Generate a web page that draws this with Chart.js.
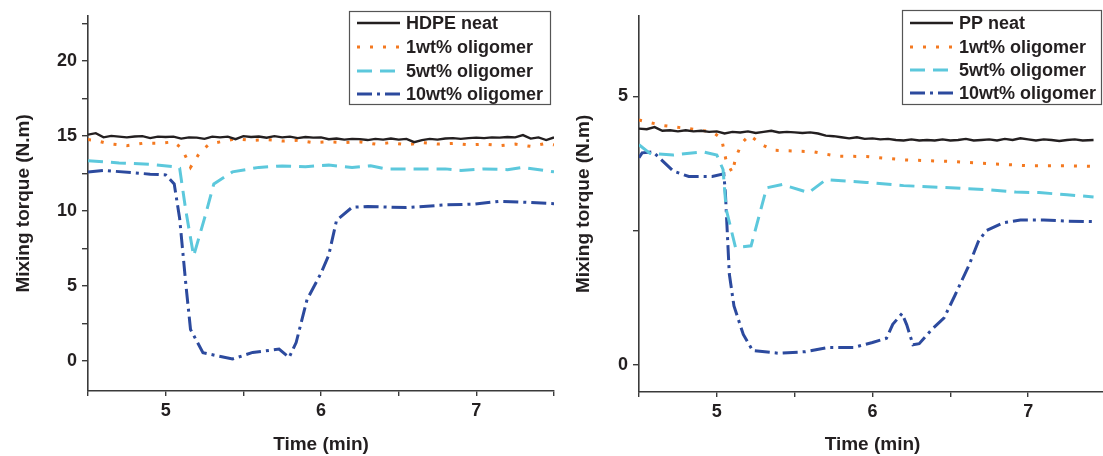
<!DOCTYPE html>
<html>
<head>
<meta charset="utf-8">
<title>Mixing torque vs time</title>
<script src="https://cdn.jsdelivr.net/npm/chart.js@4/dist/chart.umd.min.js"></script>
<style>
  html, body { margin: 0; padding: 0; background: #fff; overflow: hidden; }
  body { width: 1103px; height: 456px; position: relative; }
  .panel { position: absolute; top: 0; height: 456px; }
  #left { left: 0; width: 560px; }
  #right { left: 560px; width: 550px; }
</style>
</head>
<body>
<div class="panel" id="left"><canvas id="hdpe"></canvas></div>
<div class="panel" id="right"><canvas id="pp"></canvas></div>
<script>
// ---- data: [time (min), mixing torque (N.m)] ----
const hdpeNeat = [
  [4.50,15.08],[4.55,15.18],[4.60,14.90],[4.65,15.00],[4.70,14.95],[4.75,14.90],[4.80,14.96],[4.85,14.98],
  [4.90,14.85],[4.95,14.95],[5.00,14.92],[5.05,14.95],[5.10,14.82],[5.15,14.90],[5.20,14.88],[5.25,14.80],
  [5.30,14.95],[5.35,14.90],[5.40,14.95],[5.45,14.78],[5.50,14.98],[5.55,14.92],[5.60,14.96],[5.65,14.88],
  [5.70,14.98],[5.75,14.90],[5.80,14.95],[5.85,14.85],[5.90,14.92],[5.95,14.88],[6.00,14.90],[6.05,14.78],
  [6.10,14.82],[6.15,14.75],[6.20,14.80],[6.25,14.78],[6.30,14.72],[6.35,14.80],[6.40,14.75],[6.45,14.82],
  [6.50,14.75],[6.55,14.80],[6.60,14.58],[6.65,14.72],[6.70,14.80],[6.75,14.75],[6.80,14.82],[6.85,14.85],
  [6.90,14.80],[6.95,14.85],[7.00,14.88],[7.05,14.85],[7.10,14.90],[7.15,14.88],[7.20,14.92],[7.25,14.90],
  [7.30,15.05],[7.35,14.82],[7.40,14.90],[7.45,14.72],[7.50,14.90]
];
const hdpe1wt = [
  [4.50,14.75],[4.55,14.70],[4.62,14.50],[4.75,14.35],[4.85,14.50],[4.95,14.50],[5.05,14.60],[5.10,14.20],
  [5.13,13.60],[5.16,12.90],[5.19,13.40],[5.22,13.90],[5.28,14.45],[5.35,14.60],[5.45,14.80],[5.55,14.70],
  [5.65,14.75],[5.75,14.65],[5.85,14.70],[5.95,14.55],[6.05,14.60],[6.15,14.55],[6.25,14.60],[6.35,14.45],
  [6.45,14.55],[6.55,14.40],[6.65,14.55],[6.75,14.45],[6.85,14.50],[6.95,14.40],[7.05,14.45],[7.15,14.35],
  [7.25,14.45],[7.35,14.30],[7.45,14.50],[7.50,14.40]
];
const hdpe5wt = [
  [4.50,13.35],[4.70,13.20],[4.90,13.10],[5.05,12.95],[5.09,12.85],[5.13,10.00],[5.18,7.00],[5.25,9.50],
  [5.31,11.80],[5.43,12.60],[5.60,12.90],[5.75,13.00],[5.90,12.95],[6.05,13.05],[6.20,12.90],[6.32,13.00],
  [6.42,12.80],[6.60,12.80],[6.80,12.80],[6.90,12.70],[7.05,12.80],[7.20,12.75],[7.30,12.90],[7.50,12.60]
];
const hdpe10wt = [
  [4.50,12.60],[4.60,12.70],[4.90,12.45],[5.00,12.40],[5.055,11.80],[5.09,9.50],[5.13,5.10],[5.16,2.10],
  [5.24,0.55],[5.43,0.13],[5.56,0.57],[5.73,0.79],[5.795,0.24],[5.84,1.23],[5.91,4.09],[6.00,5.85],
  [6.05,7.06],[6.10,9.37],[6.20,10.24],[6.30,10.30],[6.55,10.22],[6.80,10.40],[6.99,10.46],[7.15,10.64],
  [7.30,10.58],[7.50,10.48]
];

const ppNeat = [
  [4.50,4.40],[4.55,4.39],[4.60,4.43],[4.65,4.36],[4.70,4.37],[4.75,4.35],[4.80,4.37],[4.85,4.35],
  [4.90,4.36],[4.95,4.34],[5.00,4.35],[5.05,4.31],[5.10,4.34],[5.15,4.33],[5.20,4.35],[5.25,4.32],
  [5.30,4.34],[5.35,4.36],[5.40,4.33],[5.45,4.34],[5.50,4.33],[5.55,4.32],[5.60,4.33],[5.65,4.31],
  [5.70,4.27],[5.75,4.26],[5.80,4.24],[5.85,4.22],[5.90,4.24],[5.95,4.21],[6.00,4.22],[6.05,4.20],
  [6.10,4.21],[6.15,4.19],[6.20,4.18],[6.25,4.20],[6.30,4.18],[6.35,4.19],[6.40,4.18],[6.45,4.20],
  [6.50,4.18],[6.55,4.19],[6.60,4.21],[6.65,4.18],[6.70,4.19],[6.75,4.20],[6.80,4.18],[6.85,4.21],
  [6.90,4.19],[6.95,4.22],[7.00,4.20],[7.05,4.18],[7.10,4.20],[7.15,4.19],[7.20,4.17],[7.25,4.19],
  [7.30,4.20],[7.35,4.18],[7.42,4.19]
];
const pp1wt = [
  [4.50,4.56],[4.65,4.46],[4.82,4.40],[4.97,4.34],[5.03,4.22],[5.06,3.80],[5.10,3.58],[5.12,3.85],
  [5.16,4.13],[5.21,4.28],[5.29,4.10],[5.36,4.00],[5.62,3.97],[5.77,3.89],[5.96,3.88],[6.20,3.82],
  [6.50,3.79],[6.75,3.75],[7.00,3.71],[7.25,3.71],[7.42,3.70]
];
const pp5wt = [
  [4.50,4.10],[4.57,3.94],[4.72,3.91],[4.91,3.97],[5.00,3.91],[5.04,3.64],[5.06,2.90],[5.12,2.19],
  [5.22,2.22],[5.32,3.30],[5.42,3.36],[5.59,3.21],[5.70,3.45],[5.96,3.40],[6.20,3.34],[6.50,3.30],
  [6.75,3.26],[6.92,3.22],[7.07,3.21],[7.25,3.17],[7.42,3.13]
];
const pp10wt = [
  [4.50,3.86],[4.52,3.95],[4.59,3.97],[4.72,3.61],[4.82,3.51],[4.97,3.51],[5.045,3.56],[5.055,3.20],
  [5.065,2.60],[5.08,1.70],[5.11,1.10],[5.17,0.57],[5.23,0.27],[5.40,0.22],[5.57,0.25],[5.72,0.33],
  [5.88,0.33],[6.00,0.42],[6.09,0.50],[6.13,0.76],[6.19,0.96],[6.22,0.75],[6.26,0.38],[6.30,0.40],
  [6.38,0.66],[6.46,0.88],[6.53,1.30],[6.62,1.86],[6.68,2.30],[6.73,2.50],[6.84,2.65],[6.95,2.70],
  [7.10,2.70],[7.24,2.68],[7.42,2.67]
];

// ---- tick positions and legend text ----
const timeTicks = [4.5, 5, 5.5, 6, 6.5, 7, 7.5];
const hdpeTorqueTicks = [0, 2.5, 5, 7.5, 10, 12.5, 15, 17.5, 20, 22.5];
const ppTorqueTicks = [0, 2.5, 5];
const hdpeLegend = ['HDPE neat', '1wt% oligomer', '5wt% oligomer', '10wt% oligomer'];
const ppLegend = ['PP neat', '1wt% oligomer', '5wt% oligomer', '10wt% oligomer'];

// ---- styling ----
const FONT = "'Liberation Sans', Arial, Helvetica, sans-serif";
const INK = '#231f20';
const AXIS = '#3a3a3a';
const seriesStyles = [
  { color: '#231f20', width: 2.4, dash: [] },
  { color: '#f47920', width: 3,   dash: [3, 10] },
  { color: '#5cc8dc', width: 3,   dash: [15, 8] },
  { color: '#2c4a9e', width: 3,   dash: [15, 5, 3, 5] }
];

function toPoints(pairs) { return pairs.map(([x, y]) => ({ x, y })); }

function buildDatasets(seriesList, labels) {
  return seriesList.map((s, i) => ({
    label: labels[i],
    data: toPoints(s),
    borderColor: seriesStyles[i].color,
    borderWidth: seriesStyles[i].width,
    borderDash: seriesStyles[i].dash,
    pointRadius: 0,
    tension: 0,
    fill: false
  }));
}

// legend box drawn inside the plot, top-right
const boxLegend = {
  id: 'boxLegend',
  afterDraw(chart, args, opts) {
    const ctx = chart.ctx;
    const { x, y, w, h, rows } = opts;
    ctx.save();
    ctx.fillStyle = '#fff';
    ctx.fillRect(x, y, w, h);
    ctx.strokeStyle = '#555';
    ctx.lineWidth = 1.2;
    ctx.strokeRect(x + 0.5, y + 0.5, w, h);
    ctx.font = 'bold 18px ' + FONT;
    ctx.textBaseline = 'middle';
    ctx.fillStyle = INK;
    chart.data.datasets.forEach((ds, i) => {
      const ry = rows[i];
      ctx.beginPath();
      ctx.strokeStyle = ds.borderColor;
      ctx.lineWidth = ds.borderWidth;
      ctx.setLineDash(ds.borderDash);
      ctx.moveTo(x + 8, ry);
      ctx.lineTo(x + 51, ry);
      ctx.stroke();
      ctx.setLineDash([]);
      ctx.fillText(ds.label, x + 57, ry + 1);
    });
    ctx.restore();
  }
};

function makeChart(canvasId, datasets, cfg) {
  const tickFont = { family: FONT, size: 18, weight: 'bold' };
  const titleFont = { family: FONT, size: 19, weight: 'bold' };
  return new Chart(document.getElementById(canvasId), {
    type: 'line',
    data: { datasets },
    plugins: [boxLegend],
    options: {
      responsive: true,
      maintainAspectRatio: false,
      animation: false,
      events: [],
      layout: { padding: { top: cfg.padTop, right: cfg.padRight, left: 0, bottom: 0 } },
      plugins: {
        legend: { display: false },
        tooltip: { enabled: false },
        boxLegend: cfg.legend
      },
      scales: {
        x: {
          type: 'linear',
          min: 4.5,
          max: 7.5,
          afterBuildTicks: (s) => { s.ticks = timeTicks.map(v => ({ value: v })); },
          afterFit: (s) => { s.height = cfg.xHeight; },
          ticks: {
            autoSkip: false, maxRotation: 0, padding: 4, color: INK, font: tickFont,
            callback: (v) => Number.isInteger(v) ? String(v) : ''
          },
          grid: { drawOnChartArea: false, drawTicks: true, tickLength: 5, color: AXIS, lineWidth: 1.4 },
          border: { display: true, color: AXIS, width: 1.6 },
          title: { display: true, text: 'Time (min)', color: INK, font: titleFont, padding: { top: 0, bottom: 0 } }
        },
        y: {
          type: 'linear',
          min: cfg.yMin,
          max: cfg.yMax,
          afterBuildTicks: (s) => { s.ticks = cfg.yTicks.map(v => ({ value: v })); },
          afterFit: (s) => { s.width = cfg.yWidth; },
          ticks: {
            autoSkip: false, padding: 5, color: INK, font: tickFont,
            callback: (v) => (v % 5 === 0) ? String(v) : ''
          },
          grid: { drawOnChartArea: false, drawTicks: true, tickLength: 6, color: AXIS, lineWidth: 1.4 },
          border: { display: true, color: AXIS, width: 1.6 },
          title: { display: true, text: 'Mixing torque (N.m)', color: INK, font: titleFont, padding: { top: 12, bottom: 0 } }
        }
      }
    }
  });
}

makeChart('hdpe', buildDatasets([hdpeNeat, hdpe1wt, hdpe5wt, hdpe10wt], hdpeLegend), {
  yMin: -2, yMax: 23, yTicks: hdpeTorqueTicks,
  yWidth: 88, xHeight: 65, padTop: 12, padRight: 6,
  legend: { x: 349, y: 11, w: 201, h: 93, rows: [23, 47, 71, 94] }
});

makeChart('pp', buildDatasets([ppNeat, pp1wt, pp5wt, pp10wt], ppLegend), {
  yMin: -0.5, yMax: 6.5, yTicks: ppTorqueTicks,
  yWidth: 79, xHeight: 64, padTop: 11, padRight: 3,
  legend: { x: 342, y: 10, w: 199, h: 94, rows: [23, 47, 70, 93] }
});
</script>
</body>
</html>
